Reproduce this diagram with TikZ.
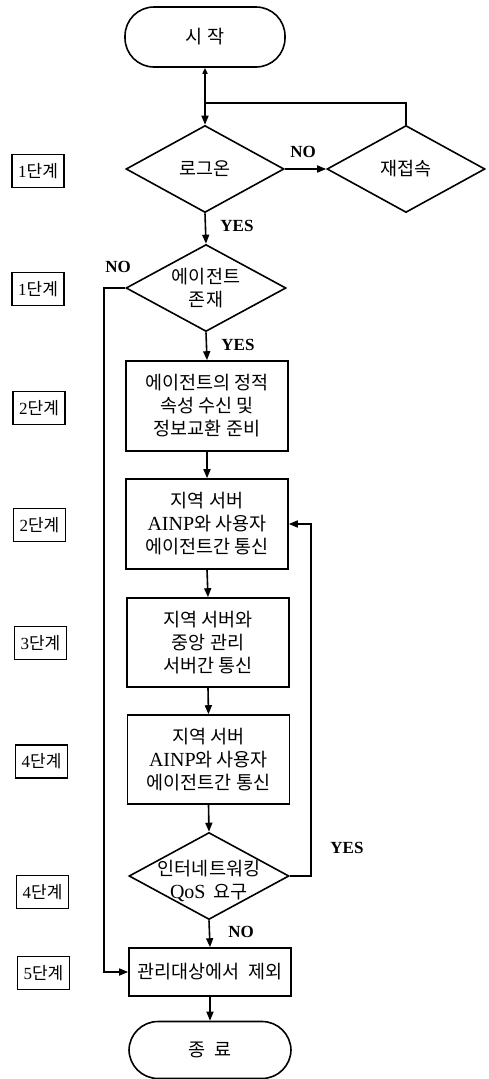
\documentclass[tikz,border=0pt]{standalone}
\usepackage{fontspec}
\setmainfont{Noto Sans CJK KR}
\newfontfamily\lat{Liberation Serif}
\usetikzlibrary{shapes.geometric,arrows.meta}
\newcommand{\lt}[1]{{\lat\fontsize{20}{23}\selectfont #1}}
\begin{document}
\begin{tikzpicture}[x=1pt,y=-1pt,
  line width=1.6pt,
  box/.style={draw, rectangle, minimum width=162pt, minimum height=90pt, inner sep=0pt, align=center, font=\fontsize{18.5}{23}\selectfont},
  dia/.style={draw, diamond, minimum width=158pt, minimum height=87pt, inner sep=0pt},
  term/.style={draw, rectangle, rounded corners=29pt, minimum width=160pt, minimum height=60pt, font=\fontsize{18.5}{23}\selectfont},
  txt/.style={align=center, font=\fontsize{18.5}{23}\selectfont, inner sep=0pt},
  lab/.style={font=\lat\bfseries\fontsize{17}{18}\selectfont, inner sep=0pt},
  stage/.style={draw, line width=1.5pt, minimum width=52pt, minimum height=33pt, inner sep=0pt, font=\fontsize{17}{17}\selectfont},
  arr/.style={-{Triangle[length=9pt,width=7pt]}}
]
\useasboundingbox (0,0) rectangle (488,1079);

% main flow
\node[term] (start) at (205,37) {시 작};
\node[dia] (login) at (205,169) {};
\node[txt] (logint) at (login) {로그온};
\node[dia] (reconn) at (406,169) {};
\node[txt] (reconnt) at (reconn) {재접속};
\node[dia, minimum width=160pt] (agent) at (206,288) {};
\node[txt] (agentt) at (206,288) {에이전트\\존재};
\node[box] (b1) at (207,406) {에이전트의 정적\\속성 수신 및\\정보교환 준비};
\node[box] (b2) at (207,524) {지역 서버\\\lt{AINP}와 사용자\\에이전트간 통신};
\node[box, minimum height=89pt] (b3) at (208,642.5) {지역 서버와\\중앙 관리\\서버간 통신};
\node[box, minimum height=89pt] (b4) at (208.5,759.5) {지역 서버\\\lt{AINP}와 사용자\\에이전트간 통신};
\node[dia, minimum width=160pt] (qos) at (209,876) {};
\node[txt] (qost) at (209,881) {인터네트워킹\\\lt{QoS} \ 요구};
\node[box, minimum height=48pt] (b5) at (210,972) {관리대상에서 \ 제외};
\node[term, minimum width=162pt, minimum height=57pt] (stop) at (210,1050) {종 \ 료};

% stage labels
\node[stage] (s1) at (38,171) {{\lat 1}단계};
\node[stage] (s2) at (38,289) {{\lat 1}단계};
\node[stage] (s3) at (39,408) {{\lat 2}단계};
\node[stage] (s4) at (39.5,525) {{\lat 2}단계};
\node[stage] (s5) at (40.5,643) {{\lat 3}단계};
\node[stage] (s6) at (41.5,761.5) {{\lat 4}단계};
\node[stage] (s7) at (42.5,892) {{\lat 4}단계};
\node[stage] (s8) at (43.5,973) {{\lat 5}단계};

% edge labels
\node[lab] (lno1) at (303,152) {NO};
\node[lab] (lyes1) at (237,226) {YES};
\node[lab] (lno2) at (118,267) {NO};
\node[lab] (lyes2) at (238,345) {YES};
\node[lab] (lyes3) at (347,848) {YES};
\node[lab] (lno3) at (241,932) {NO};

% connectors
\coordinate (j1) at (205,103);
\coordinate (nl) at (104,288);
\coordinate (yl) at (311,876);
\draw[{Triangle[length=6pt,width=5pt]}-{Triangle[length=9pt,width=7pt]}] (start.south) -- (login.north);
\draw (reconn.north) |- (j1);
\draw[arr] (login.east) -- (reconn.west);
\draw[arr] (login.south) -- (agent.north);
\draw[arr] (agent.west) -- (nl) |- (b5.west);
\draw[arr] (agent.south) -- (b1.north);
\draw[arr] (b1.south) -- (b2.north);
\draw[arr] (b2.south) -- (b3.north);
\draw[arr] (b3.south) -- (b4.north);
\draw[arr] (b4.south) -- (qos.north);
\draw[arr] (qos.south) -- (b5.north);
\draw[arr] (b5.south) -- (stop.north);
\draw[arr] (qos.east) -- (yl) |- (b2.east);
\end{tikzpicture}
\end{document}
